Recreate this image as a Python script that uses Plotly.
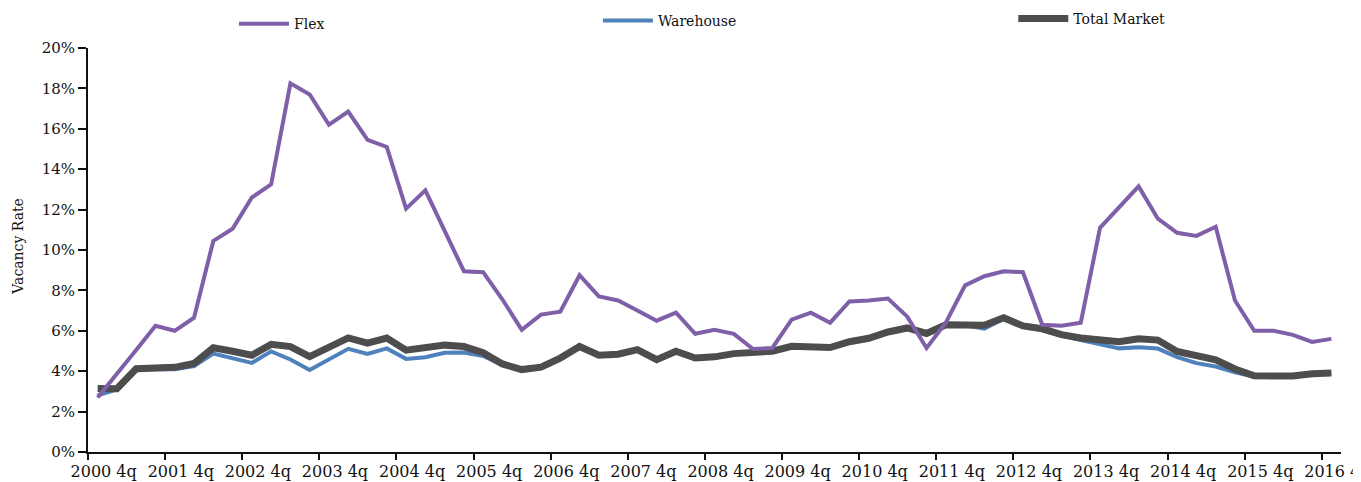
import plotly.graph_objects as go

# quarterly vacancy rates (percent)
QUARTERS = [
    "2000 4q",
    "2001 1q", "2001 2q", "2001 3q", "2001 4q",
    "2002 1q", "2002 2q", "2002 3q", "2002 4q",
    "2003 1q", "2003 2q", "2003 3q", "2003 4q",
    "2004 1q", "2004 2q", "2004 3q", "2004 4q",
    "2005 1q", "2005 2q", "2005 3q", "2005 4q",
    "2006 1q", "2006 2q", "2006 3q", "2006 4q",
    "2007 1q", "2007 2q", "2007 3q", "2007 4q",
    "2008 1q", "2008 2q", "2008 3q", "2008 4q",
    "2009 1q", "2009 2q", "2009 3q", "2009 4q",
    "2010 1q", "2010 2q", "2010 3q", "2010 4q",
    "2011 1q", "2011 2q", "2011 3q", "2011 4q",
    "2012 1q", "2012 2q", "2012 3q", "2012 4q",
    "2013 1q", "2013 2q", "2013 3q", "2013 4q",
    "2014 1q", "2014 2q", "2014 3q", "2014 4q",
    "2015 1q", "2015 2q", "2015 3q", "2015 4q",
    "2016 1q", "2016 2q", "2016 3q", "2016 4q",
]

FLEX = [
    2.7, 3.85, 5.05, 6.25, 6.0, 6.65, 10.45, 11.05, 12.6, 13.25,
    18.25, 17.7, 16.2, 16.85, 15.45, 15.1, 12.05, 12.95, 10.9, 8.95,
    8.9, 7.55, 6.05, 6.8, 6.95, 8.75, 7.7, 7.5, 7.0, 6.5,
    6.9, 5.85, 6.05, 5.85, 5.1, 5.15, 6.55, 6.9, 6.4, 7.45,
    7.5, 7.6, 6.7, 5.15, 6.4, 8.25, 8.7, 8.95, 8.9, 6.3,
    6.25, 6.4, 11.1, 12.15, 13.15, 11.55, 10.85, 10.7, 11.15, 7.5,
    6.0, 6.0, 5.8, 5.45, 5.6,
]

WAREHOUSE = [
    2.8, 3.1, 4.05, 4.1, 4.1, 4.25, 4.87, 4.66, 4.41, 4.98,
    4.58, 4.06, 4.59, 5.11, 4.86, 5.13, 4.61, 4.69, 4.91, 4.92,
    4.75, 4.3, 4.05, 4.15, 4.6, 5.2, 4.75, 4.8, 5.05, 4.55,
    4.95, 4.62, 4.68, 4.85, 4.95, 4.97, 5.2, 5.15, 5.15, 5.44,
    5.6, 5.9, 6.1, 5.85, 6.25, 6.27, 6.1, 6.6, 6.2, 6.05,
    5.75, 5.55, 5.35, 5.13, 5.18, 5.12, 4.7, 4.4, 4.23, 3.94,
    3.72, 3.72, 3.72, 3.84, 3.88,
]

TOTAL_MARKET = [
    3.14, 3.13, 4.12, 4.19, 4.19, 4.38, 5.16, 4.99, 4.79, 5.33,
    5.22, 4.72, 5.16, 5.65, 5.39, 5.64, 5.04, 5.2, 5.29, 5.22,
    4.92, 4.36, 4.08, 4.2, 4.65, 5.22, 4.79, 4.84, 5.07, 4.57,
    4.99, 4.65, 4.71, 4.87, 4.97, 4.99, 5.23, 5.18, 5.17, 5.46,
    5.63, 5.94, 6.14, 5.87, 6.3, 6.29, 6.28, 6.65, 6.24, 6.1,
    5.81, 5.64, 5.55, 5.46, 5.6, 5.54, 4.98, 4.73, 4.56, 4.11,
    3.77, 3.76, 3.76, 3.87, 3.91,
]

FONT = "DejaVu Serif, Liberation Serif, serif"
N = len(QUARTERS)
XRANGE = [-0.5, N - 0.5]
YRANGE = [0, 20]

# the page body keeps its default 8px margin, so the figure is 8px
# smaller than the window on each axis and margins are trimmed to match
FIG_W, FIG_H = 1353, 474


def _legend(x, y):
    return dict(
        x=x, y=y, xref="container", yref="container",
        xanchor="left", yanchor="middle", itemwidth=50,
        orientation="h", bgcolor="rgba(0,0,0,0)",
        font=dict(family=FONT, size=14, color="#111"),
    )


fig = go.Figure()

# warehouse first so the total market line sits on top of it
fig.add_trace(go.Scatter(
    x=QUARTERS, y=WAREHOUSE, name="Warehouse", mode="lines",
    line=dict(color="#4F81BD", width=4), legend="legend2",
))
fig.add_trace(go.Scatter(
    x=QUARTERS, y=TOTAL_MARKET, name="Total Market", mode="lines",
    line=dict(color="#4d4d4d", width=7), legend="legend3",
))
fig.add_trace(go.Scatter(
    x=QUARTERS, y=FLEX, name="Flex", mode="lines",
    line=dict(color="#7f5fa8", width=4), legend="legend",
))

fig.update_layout(
    width=FIG_W, height=FIG_H, autosize=False, showlegend=True,
    margin=dict(l=80, r=20, t=40, b=30, autoexpand=False),
    paper_bgcolor="white", plot_bgcolor="white",
    font=dict(family=FONT, color="#111"),
    legend=_legend(0.167, 0.966),
    legend2=_legend(0.436, 0.973),
    legend3=_legend(0.743, 0.977),
    xaxis=dict(
        type="category", range=XRANGE, tickson="boundaries",
        tick0=0, dtick=4, tickangle=0,
        ticks="outside", ticklen=6, tickwidth=2,
        tickcolor="#111", ticklabelshift=6, ticklabelstandoff=4,
        tickfont=dict(family=FONT, size=16, color="#111"),
        showline=True, linewidth=2, linecolor="#111",
        showgrid=False, zeroline=False, automargin=False,
    ),
    # inside half of the crossing tick marks
    xaxis2=dict(
        overlaying="x", anchor="y", range=XRANGE, tick0=-0.5, dtick=4,
        ticks="inside", ticklen=5, tickwidth=2, tickcolor="#111",
        showticklabels=False, showline=False, showgrid=False,
        zeroline=False,
    ),
    yaxis=dict(
        range=YRANGE, dtick=2, ticksuffix="%",
        ticks="outside", ticklen=8, tickwidth=2, tickcolor="#111",
        tickfont=dict(family=FONT, size=15, color="#111"),
        showline=True, linewidth=2, linecolor="#111",
        showgrid=False, zeroline=False, automargin=False,
    ),
    yaxis2=dict(
        overlaying="y", anchor="x", side="left", range=YRANGE, dtick=2,
        ticks="inside", ticklen=4, tickwidth=2, tickcolor="#111",
        showticklabels=False, showline=False, showgrid=False,
        zeroline=False,
    ),
    annotations=[dict(
        text="Vacancy Rate", textangle=-90, showarrow=False,
        xref="paper", yref="paper", x=-0.056, y=0.51,
        xanchor="center", yanchor="middle",
        font=dict(family=FONT, size=14, color="#111"),
    )],
)

fig.write_html("out.html")
